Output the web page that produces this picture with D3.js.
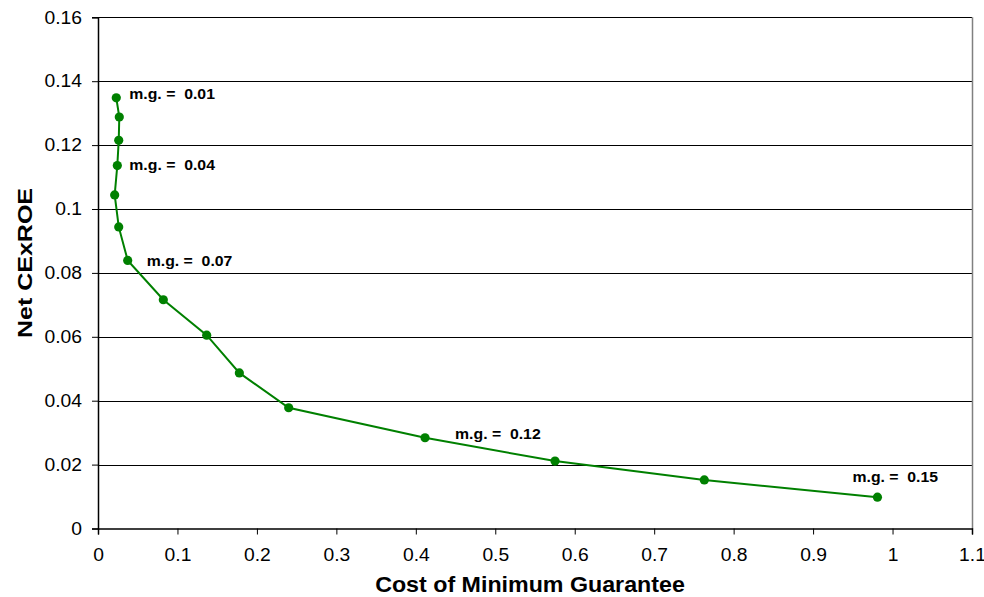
<!DOCTYPE html>
<html>
<head>
<meta charset="utf-8">
<script src="https://cdn.jsdelivr.net/npm/d3@7"></script>
<style>
    body { margin: 0; background: #fff; }
    svg { display: block; font-family: Arial, "Liberation Sans", sans-serif; }
</style>
</head>
<body>
<svg id="chart" width="984" height="597"></svg>
<script>
'use strict';

// minimum guarantee levels, one point each
var minGuarantee = [0.01, 0.02, 0.03, 0.04, 0.05, 0.06, 0.07, 0.08, 0.09, 0.10, 0.11, 0.12, 0.13, 0.14, 0.15];
var costOfGuarantee = [0.0230, 0.0268, 0.0261, 0.0243, 0.0210, 0.0261, 0.0374, 0.0822, 0.1368, 0.1779, 0.2400, 0.4116, 0.5752, 0.7631, 0.9810];
var netCExROE = [0.1348, 0.1288, 0.1215, 0.1136, 0.1044, 0.0944, 0.0839, 0.0716, 0.0605, 0.0487, 0.0378, 0.0284, 0.0211, 0.0152, 0.0098];
var labelledLevels = [0.01, 0.04, 0.07, 0.12, 0.15];
var xTicks = [0, 0.1, 0.2, 0.3, 0.4, 0.5, 0.6, 0.7, 0.8, 0.9, 1, 1.1];
var yTicks = [0, 0.02, 0.04, 0.06, 0.08, 0.1, 0.12, 0.14, 0.16];

// where each data label sits relative to its point (hand placed, like the original)
var labelOffsets = [[13, 1], [12, 4], [19, 6], [30, 1.5], [-25, -15]];

var svg = d3.select("#chart"),
    width = +svg.attr("width"),
    height = +svg.attr("height");

var margin = {top: 17.3, right: 12, bottom: 68.5, left: 98};
var green = "#008000";

var x = d3.scaleLinear()
    .domain([0, 1.1])
    .range([margin.left, width - margin.right]);

var y = d3.scaleLinear()
    .domain([0, 0.16])
    .range([height - margin.bottom, margin.top]);

// widen glyphs horizontally, the original text is a bit wide
function stretch(sel, k) {
    sel.each(function () {
        var w = this.getComputedTextLength();
        d3.select(this)
            .attr("textLength", w * k)
            .attr("lengthAdjust", "spacingAndGlyphs");
    });
}

// gridlines
svg.append("g")
    .selectAll("line")
    .data(yTicks.slice(1))
    .enter().append("line")
    .attr("x1", x(0))
    .attr("x2", x(1.1))
    .attr("y1", function (d) { return Math.round(y(d)) + 0.5; })
    .attr("y2", function (d) { return Math.round(y(d)) + 0.5; })
    .attr("stroke", "#000")
    .attr("stroke-width", 1);

// right border of plot area
svg.append("line")
    .attr("x1", x(1.1) + 0.5)
    .attr("x2", x(1.1) + 0.5)
    .attr("y1", y(0.16))
    .attr("y2", y(0))
    .attr("stroke", "#808080")
    .attr("stroke-width", 1.5);

var xAxis = svg.append("g")
    .attr("transform", "translate(0," + y(0) + ")")
    .call(d3.axisBottom(x)
        .tickValues(xTicks)
        .tickFormat(d3.format("~g"))
        .tickSizeOuter(0)
        .tickSize(6)
        .tickPadding(14));

var yAxis = svg.append("g")
    .attr("transform", "translate(" + x(0) + ",0)")
    .call(d3.axisLeft(y)
        .tickValues(yTicks)
        .tickFormat(d3.format("~g"))
        .tickSizeOuter(0)
        .tickSize(6)
        .tickPadding(10));

[xAxis, yAxis].forEach(function (ax) {
    ax.select(".domain").attr("stroke", "#000").attr("stroke-width", 1.5);
    ax.selectAll(".tick line").attr("stroke", "#000");
    ax.selectAll(".tick text")
        .attr("fill", "#000")
        .style("font-size", "18px")
        .style("font-family", "Arial, 'Liberation Sans', sans-serif");
    stretch(ax.selectAll(".tick text"), 1.07);
});

// curve
var points = costOfGuarantee.map(function (c, i) {
    return {mg: minGuarantee[i], cost: c, roe: netCExROE[i]};
});

var line = d3.line()
    .x(function (d) { return x(d.cost); })
    .y(function (d) { return y(d.roe); });

svg.append("path")
    .datum(points)
    .attr("d", line)
    .attr("fill", "none")
    .attr("stroke", green)
    .attr("stroke-width", 2);

svg.append("g")
    .selectAll("circle")
    .data(points)
    .enter().append("circle")
    .attr("cx", function (d) { return x(d.cost); })
    .attr("cy", function (d) { return y(d.roe); })
    .attr("r", 4.6)
    .attr("fill", green);

// data labels
var labels = svg.append("g")
    .selectAll("text")
    .data(points.filter(function (d) { return labelledLevels.indexOf(d.mg) >= 0; }))
    .enter().append("text")
    .attr("x", function (d, i) { return x(d.cost) + labelOffsets[i][0]; })
    .attr("y", function (d, i) { return y(d.roe) + labelOffsets[i][1]; })
    .attr("xml:space", "preserve")
    .style("white-space", "pre")
    .style("font-size", "14.5px")
    .style("font-weight", "bold")
    .text(function (d) { return "m.g. =  " + d3.format(".2f")(d.mg); });
stretch(labels, 1.09);

// axis titles
var xTitle = svg.append("text")
    .attr("x", 530)
    .attr("y", 592)
    .attr("text-anchor", "middle")
    .style("font-size", "21.5px")
    .style("font-weight", "bold")
    .text("Cost of Minimum Guarantee");
stretch(xTitle, 1.08);

var yTitle = svg.append("text")
    .attr("transform", "translate(32,263) rotate(-90)")
    .attr("text-anchor", "middle")
    .style("font-size", "21px")
    .style("font-weight", "bold")
    .text("Net CExROE");
stretch(yTitle, 1.19);
</script>
</body>
</html>
